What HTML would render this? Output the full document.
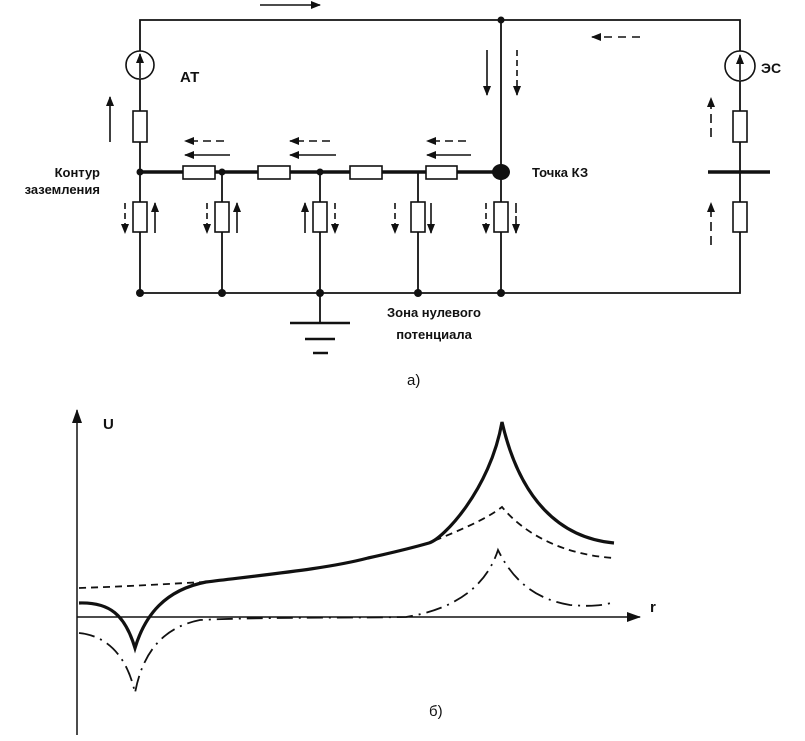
<!DOCTYPE html>
<html><head><meta charset="utf-8"><style>
html,body{margin:0;padding:0;background:#fff;}
svg{display:block;}
text{font-family:"Liberation Sans",Arial,sans-serif;font-weight:bold;fill:#111;}
</style></head><body>
<svg width="805" height="741" viewBox="0 0 805 741" xmlns="http://www.w3.org/2000/svg">
<defs>
<marker id="ah" markerWidth="10" markerHeight="8" refX="9" refY="4" orient="auto" markerUnits="userSpaceOnUse"><path d="M0,0 L10,4 L0,8 Z" fill="#111"/></marker>
<marker id="ax" markerWidth="14" markerHeight="10" refX="13" refY="5" orient="auto" markerUnits="userSpaceOnUse"><path d="M0,0 L14,5 L0,10 Z" fill="#111"/></marker>
</defs>
<g stroke="#111" stroke-width="1.8" fill="none">
<path d="M140,20 H740 V293 H140 Z"/>
<line x1="501" y1="20" x2="501" y2="293"/>
<line x1="222" y1="172" x2="222" y2="293"/>
<line x1="320" y1="172" x2="320" y2="323"/>
<line x1="418" y1="172" x2="418" y2="293"/>
<line x1="140" y1="172" x2="501" y2="172" stroke-width="3.5"/>
<line x1="290" y1="323" x2="350" y2="323" stroke-width="2.5"/>
<line x1="305" y1="339" x2="335" y2="339" stroke-width="2.5"/>
<line x1="313" y1="353" x2="328" y2="353" stroke-width="2.5"/>
<line x1="708" y1="172" x2="770" y2="172" stroke-width="3.5"/>
</g>
<g stroke="#111" stroke-width="1.6" fill="#fff">
<circle cx="140" cy="65" r="14"/>
<circle cx="740" cy="66" r="15"/>
<rect x="133" y="111" width="14" height="31"/>
<rect x="733" y="111" width="14" height="31"/>
<rect x="733" y="202" width="14" height="30"/>
<rect x="183" y="166" width="32" height="13"/>
<rect x="258" y="166" width="32" height="13"/>
<rect x="350" y="166" width="32" height="13"/>
<rect x="426" y="166" width="31" height="13"/>
<rect x="133" y="202" width="14" height="30"/>
<rect x="215" y="202" width="14" height="30"/>
<rect x="313" y="202" width="14" height="30"/>
<rect x="411" y="202" width="14" height="30"/>
<rect x="494" y="202" width="14" height="30"/>
</g>
<g stroke="#111" stroke-width="1.6" fill="none">
<line x1="140" y1="78" x2="140" y2="54" marker-end="url(#ah)"/>
<line x1="740" y1="80" x2="740" y2="55" marker-end="url(#ah)"/>
</g>
<g fill="#111">
<circle cx="140" cy="172" r="3.5"/><circle cx="222" cy="172" r="3.5"/><circle cx="320" cy="172" r="3.5"/>
<circle cx="501" cy="20" r="3.5"/>
<circle cx="140" cy="293" r="4"/><circle cx="222" cy="293" r="4"/><circle cx="320" cy="293" r="4"/><circle cx="418" cy="293" r="4"/><circle cx="501" cy="293" r="4"/>
<ellipse cx="501" cy="172" rx="9" ry="8"/>
</g>
<g stroke="#111" stroke-width="1.6" fill="none">
<line x1="260" y1="5" x2="320" y2="5" marker-end="url(#ah)"/>
<line x1="640" y1="37" x2="592" y2="37" stroke-dasharray="8,6" marker-end="url(#ah)"/>
<line x1="487" y1="50" x2="487" y2="95" marker-end="url(#ah)"/>
<line x1="517" y1="50" x2="517" y2="95" stroke-dasharray="6,4" marker-end="url(#ah)"/>
<line x1="110" y1="142" x2="110" y2="97" marker-end="url(#ah)"/>
<line x1="711" y1="137" x2="711" y2="98" stroke-dasharray="9,5" marker-end="url(#ah)"/>
<line x1="711" y1="245" x2="711" y2="203" stroke-dasharray="9,5" marker-end="url(#ah)"/>
<line x1="224" y1="141" x2="185" y2="141" stroke-dasharray="8,5" marker-end="url(#ah)"/>
<line x1="230" y1="155" x2="185" y2="155" marker-end="url(#ah)"/>
<line x1="330" y1="141" x2="290" y2="141" stroke-dasharray="8,5" marker-end="url(#ah)"/>
<line x1="336" y1="155" x2="290" y2="155" marker-end="url(#ah)"/>
<line x1="466" y1="141" x2="427" y2="141" stroke-dasharray="8,5" marker-end="url(#ah)"/>
<line x1="471" y1="155" x2="427" y2="155" marker-end="url(#ah)"/>
<line x1="125" y1="203" x2="125" y2="233" stroke-dasharray="6,4" marker-end="url(#ah)"/>
<line x1="155" y1="233" x2="155" y2="203" marker-end="url(#ah)"/>
<line x1="207" y1="203" x2="207" y2="233" stroke-dasharray="6,4" marker-end="url(#ah)"/>
<line x1="237" y1="233" x2="237" y2="203" marker-end="url(#ah)"/>
<line x1="305" y1="233" x2="305" y2="203" marker-end="url(#ah)"/>
<line x1="335" y1="203" x2="335" y2="233" stroke-dasharray="6,4" marker-end="url(#ah)"/>
<line x1="395" y1="203" x2="395" y2="233" stroke-dasharray="6,4" marker-end="url(#ah)"/>
<line x1="431" y1="203" x2="431" y2="233" marker-end="url(#ah)"/>
<line x1="486" y1="203" x2="486" y2="233" stroke-dasharray="6,4" marker-end="url(#ah)"/>
<line x1="516" y1="203" x2="516" y2="233" stroke-dasharray="10,3" marker-end="url(#ah)"/>
</g>
<text x="180" y="82" font-size="15">АТ</text>
<text x="761" y="73" font-size="14">ЭС</text>
<text x="100" y="177" font-size="13" text-anchor="end">Контур</text>
<text x="100" y="194" font-size="13" text-anchor="end">заземления</text>
<text x="532" y="177" font-size="13">Точка КЗ</text>
<text x="434" y="317" font-size="13" text-anchor="middle">Зона нулевого</text>
<text x="434" y="339" font-size="13" text-anchor="middle">потенциала</text>
<text x="407" y="385" font-size="15" style="font-weight:normal">а)</text>
<g stroke="#111" fill="none">
<line x1="77" y1="735" x2="77" y2="410" stroke-width="1.5" marker-end="url(#ax)"/>
<line x1="77" y1="617" x2="640" y2="617" stroke-width="1.5" marker-end="url(#ax)"/>
<path d="M79,603 C110,602 125,615 135,648 C145,615 165,590 206,582 C280,573 330,568 368,558 C400,551 415,547 429,543 S490,490 502,422 C520,500 560,538 614,543" stroke-width="3.2"/>
<path d="M79,588 C140,586 180,583 206,582 C280,573 330,568 368,558 C400,551 415,547 429,543 C460,530 485,520 502,507 C525,535 565,555 614,558" stroke-width="1.8" stroke-dasharray="7,5"/>
<path d="M79,633 C110,636 128,660 135,693 C143,650 165,627 200,620 C260,617 350,618 406,617 C450,610 485,590 498,550 C515,585 540,600 570,605 C595,607 605,605 614,602" stroke-width="1.8" stroke-dasharray="16,6,2,6"/>
</g>
<text x="103" y="429" font-size="15">U</text>
<text x="650" y="612" font-size="15">r</text>
<text x="429" y="716" font-size="15" style="font-weight:normal">б)</text>
</svg>
</body></html>
